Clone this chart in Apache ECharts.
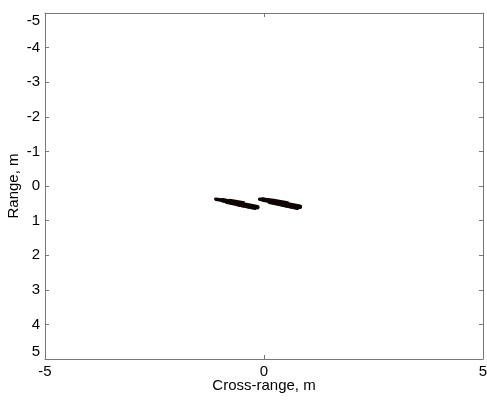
<!DOCTYPE html>
<html>
<head>
<meta charset="utf-8">
<script src="https://cdn.jsdelivr.net/npm/echarts@6/dist/echarts.min.js"></script>
<style>
  html, body { margin: 0; padding: 0; background: #fff; }
  #chart { width: 487px; height: 402px; }
</style>
</head>
<body>
<div id="chart"></div>
<script>
// Axis extents and ticks (metres)
const xTicks = [-5, 0, 5];
const yTicks = [-5, -4, -3, -2, -1, 0, 1, 2, 3, 4, 5];

// Image streaks of the two scatterers: [x0, y0, x1, y1, weight]
const leftTarget = [
  [-1.10, 0.38, -0.75, 0.45, 3.5],
  [-0.95, 0.41, -0.15, 0.61, 4.5],
  [-0.85, 0.48, -0.20, 0.65, 3],
  [-0.78, 0.39, -0.45, 0.46, 1.5],
  [-0.60, 0.57, -0.25, 0.65, 1.5],
  [-0.50, 0.52, -0.14, 0.58, 1.2]
];
const rightTarget = [
  [-0.10, 0.38, 0.22, 0.42, 3.5],
  [-0.03, 0.39, 0.82, 0.60, 4.5],
  [0.12, 0.48, 0.77, 0.65, 3],
  [0.22, 0.39, 0.55, 0.46, 1.5],
  [0.40, 0.57, 0.74, 0.66, 1.5],
  [0.50, 0.52, 0.84, 0.58, 1.2]
];

function toLines(streaks, color) {
  return streaks.map(s => ({
    coords: [[s[0], s[1]], [s[2], s[3]]],
    lineStyle: { width: s[4], color: color }
  }));
}

const axisColor = '#777';
const font = { fontFamily: 'Liberation Sans, Arial, sans-serif', fontSize: 15, color: '#000' };
const boxLine = { show: true, onZero: false, lineStyle: { color: axisColor, width: 1 } };
const boxTick = { show: true, inside: true, length: 4, lineStyle: { color: axisColor } };

const chart = echarts.init(document.getElementById('chart'));
chart.setOption({
  animation: false,
  backgroundColor: '#fff',
  grid: { left: 45, right: 4, top: 13, bottom: 43, containLabel: false, outerBoundsMode: 'none' },
  xAxis: [
    {
      type: 'value', min: xTicks[0], max: xTicks[xTicks.length - 1], interval: 5,
      name: 'Cross-range, m', nameLocation: 'middle', nameGap: 19, nameMoveOverlap: false,
      nameTextStyle: font,
      axisLine: boxLine, axisTick: boxTick,
      axisLabel: Object.assign({ margin: 5, showMinLabel: true, showMaxLabel: true }, font),
      splitLine: { show: false }
    },
    {
      type: 'value', min: xTicks[0], max: xTicks[xTicks.length - 1], interval: 5, position: 'top',
      axisLine: boxLine, axisTick: boxTick,
      axisLabel: { show: false },
      splitLine: { show: false }
    }
  ],
  yAxis: [
    {
      type: 'value', min: yTicks[0], max: yTicks[yTicks.length - 1], interval: 1, inverse: true,
      name: 'Range, m', nameLocation: 'middle', nameGap: 24, nameRotate: 90, nameMoveOverlap: false,
      nameTextStyle: font,
      axisLine: boxLine, axisTick: boxTick,
      axisLabel: Object.assign({ margin: 5, showMinLabel: true, showMaxLabel: true,
        verticalAlignMinLabel: 'top', verticalAlignMaxLabel: 'bottom' }, font),
      splitLine: { show: false }
    },
    {
      type: 'value', min: yTicks[0], max: yTicks[yTicks.length - 1], interval: 1, inverse: true, position: 'right',
      axisLine: boxLine, axisTick: boxTick,
      axisLabel: { show: false },
      splitLine: { show: false }
    }
  ],
  series: [
    {
      type: 'lines', coordinateSystem: 'cartesian2d', xAxisIndex: 0, yAxisIndex: 0,
      polyline: false, silent: true,
      lineStyle: { cap: 'round', opacity: 1 },
      data: toLines(leftTarget, '#100505')
    },
    {
      type: 'lines', coordinateSystem: 'cartesian2d', xAxisIndex: 0, yAxisIndex: 0,
      polyline: false, silent: true,
      lineStyle: { cap: 'round', opacity: 1 },
      data: toLines(rightTarget, '#100505')
    }
  ]
});
</script>
</body>
</html>
